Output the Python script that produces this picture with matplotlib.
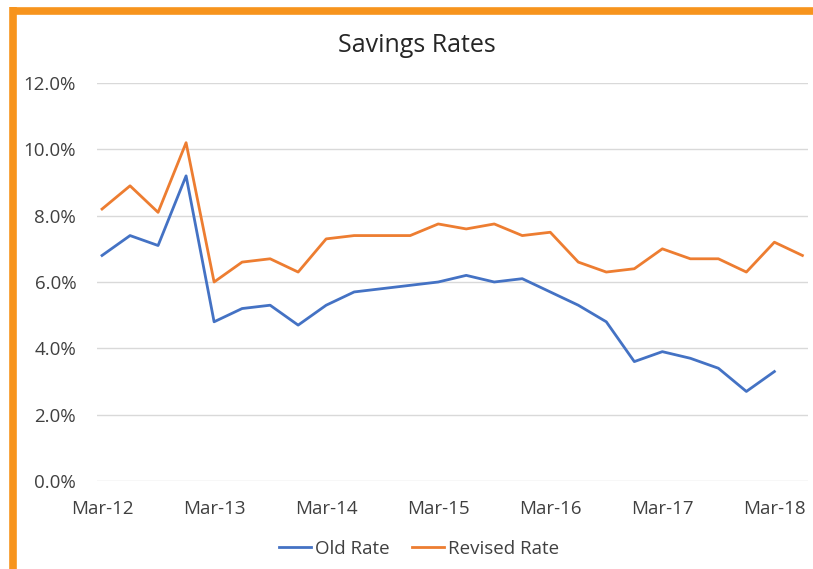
import numpy as np
import matplotlib
matplotlib.use("Agg")
import matplotlib.pyplot as plt
from matplotlib.lines import Line2D

# ---------------------------------------------
# Data (quarterly, Mar-12 .. Jun-18), in percent
# ---------------------------------------------
quarters = ["Mar-12", "Jun-12", "Sep-12", "Dec-12",
            "Mar-13", "Jun-13", "Sep-13", "Dec-13",
            "Mar-14", "Jun-14", "Sep-14", "Dec-14",
            "Mar-15", "Jun-15", "Sep-15", "Dec-15",
            "Mar-16", "Jun-16", "Sep-16", "Dec-16",
            "Mar-17", "Jun-17", "Sep-17", "Dec-17",
            "Mar-18", "Jun-18"]

old_rate = [6.8, 7.4, 7.1, 9.2,
            4.8, 5.2, 5.3, 4.7,
            5.3, 5.7, 5.8, 5.9,
            6.0, 6.2, 6.0, 6.1,
            5.7, 5.3, 4.8, 3.6,
            3.9, 3.7, 3.4, 2.7,
            3.3]

revised_rate = [8.2, 8.9, 8.1, 10.2,
                6.0, 6.6, 6.7, 6.3,
                7.3, 7.4, 7.4, 7.4,
                7.75, 7.6, 7.75, 7.4,
                7.5, 6.6, 6.3, 6.4,
                7.0, 6.7, 6.7, 6.3,
                7.2, 6.8]

y_ticks = [0, 2, 4, 6, 8, 10, 12]
x_tick_labels = ["Mar-12", "Mar-13", "Mar-14", "Mar-15", "Mar-16", "Mar-17", "Mar-18"]

BLUE = "#4472C4"
ORANGE = "#ED7D31"
BORDER = "#F7941D"
TEXT = "#404040"

plt.rcParams["font.family"] = ["Open Sans", "DejaVu Sans"]

W, H = 813, 569
fig = plt.figure(figsize=(W / 100, H / 100), dpi=100)

# orange frame (only top and left edges are visible in the crop)
fig.add_artist(Line2D([13 / W, 1.0], [1 - 11 / H, 1 - 11 / H], color=BORDER, lw=5.5,
                      transform=fig.transFigure, solid_capstyle="butt"))
fig.add_artist(Line2D([13 / W, 13 / W], [0.0, 1 - 7.3 / H], color=BORDER, lw=5.5,
                      transform=fig.transFigure, solid_capstyle="butt"))

ax = fig.add_axes([97 / W, 1 - 481 / H, (808 - 97) / W, (481 - 83) / H])

x = np.arange(len(quarters))
ax.plot(x[:len(old_rate)], old_rate, color=BLUE, lw=2.0, label="Old Rate")
ax.plot(x, revised_rate, color=ORANGE, lw=2.0, label="Revised Rate")

ax.set_ylim(0, 12)
ax.set_yticks(y_ticks)
ax.set_yticklabels([f"{v:.1f}%" for v in y_ticks])
ax.set_xlim(-0.18, 25.2)
ax.set_xticks(x[::4])
ax.set_xticklabels(x_tick_labels)

ax.grid(True, axis="y", color="#D9D9D9", lw=1.0)
ax.set_axisbelow(True)
for s in ax.spines.values():
    s.set_visible(False)
ax.tick_params(axis="both", length=0, labelsize=13.5, colors=TEXT)
ax.tick_params(axis="y", pad=15)
ax.tick_params(axis="x", pad=14)

fig.text(417 / W, 1 - 45 / H, "Savings Rates", ha="center", va="center",
         fontsize=18, color="#262626")

fig.legend(loc="center", bbox_to_anchor=(419 / W, 1 - 549 / H), ncol=2, frameon=False,
           fontsize=13.5, handlelength=1.7, handletextpad=0.2, columnspacing=1.2,
           labelcolor=TEXT)

fig.savefig("out.png", dpi=100, facecolor="white")
